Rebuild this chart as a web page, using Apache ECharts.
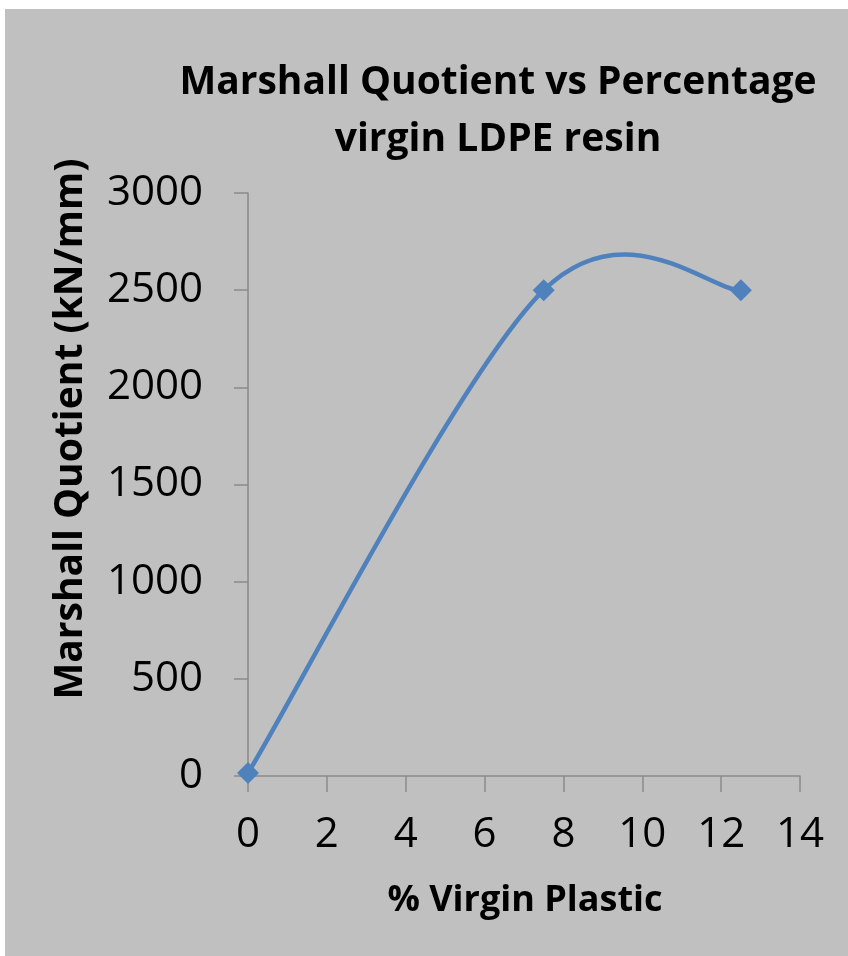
<!DOCTYPE html>
<html>
<head>
<meta charset="utf-8">
<script src="https://cdn.jsdelivr.net/npm/echarts@6/dist/echarts.min.js"></script>
<style>
  html, body { margin:0; padding:0; background:#ffffff; }
  #main { position:absolute; left:5px; top:9px; width:843px; height:947px; }
</style>
</head>
<body>
<div id="main"></div>
<script>
// data
var virginPct = [0, 7.5, 12.5];
var quotient = [15, 2500, 2500];
var xTicks = [0, 14, 2];
var yTicks = [0, 3000, 500];

var points = [];
for (var i = 0; i < virginPct.length; i++) {
    points.push([virginPct[i], quotient[i]]);
}

var lineColor = "#4f81bd";
var axisGray = "#8a8a8a";
var font = "Open Sans";

// smoothed line like the spreadsheet one (catmull-rom through the points)
function renderCurve(params, api) {
    if (params.dataIndex !== 0) return;
    var px = [];
    for (var k = 0; k < points.length; k++) {
        px.push(api.coord(points[k]));
    }
    var children = [];
    var n = px.length;
    for (var j = 0; j < n - 1; j++) {
        var p0 = px[Math.max(j - 1, 0)];
        var p1 = px[j];
        var p2 = px[j + 1];
        var p3 = px[Math.min(j + 2, n - 1)];
        children.push({
            type: "bezierCurve",
            shape: {
                x1: p1[0], y1: p1[1],
                cpx1: p1[0] + (p2[0] - p0[0]) / 6,
                cpy1: p1[1] + (p2[1] - p0[1]) / 6,
                cpx2: p2[0] - (p3[0] - p1[0]) / 6,
                cpy2: p2[1] - (p3[1] - p1[1]) / 6,
                x2: p2[0], y2: p2[1]
            },
            style: { stroke: lineColor, lineWidth: 4.5, fill: null, lineCap: "round" }
        });
    }
    return { type: "group", children: children };
}

var myChart = echarts.init(document.getElementById("main"));

var option = {
    backgroundColor: "#c0c0c0",
    animation: false,
    //标题
    title: {
        text: "Marshall Quotient vs Percentage\nvirgin LDPE resin",
        left: 488,
        top: 40,
        textAlign: "center",
        textStyle: {
            fontFamily: font,
            fontWeight: "bold",
            fontSize: 39,
            lineHeight: 57,
            color: "#000"
        }
    },
    grid: {
        left: 243,
        right: 48,
        top: 184,
        bottom: 180
    },
    xAxis: {
        type: "value",
        min: xTicks[0],
        max: xTicks[1],
        interval: xTicks[2],
        splitLine: { show: false },
        axisLine: { lineStyle: { color: axisGray, width: 1.5 } },
        axisTick: { length: 16, lineStyle: { color: axisGray, width: 1.5 } },
        axisLabel: { margin: 38, color: "#000", fontFamily: font, fontSize: 42 }
    },
    yAxis: {
        type: "value",
        min: yTicks[0],
        max: yTicks[1],
        interval: yTicks[2],
        splitLine: { show: false },
        axisLine: { show: true, lineStyle: { color: axisGray, width: 1.5 } },
        axisTick: { show: true, length: 14, lineStyle: { color: axisGray, width: 1.5 } },
        axisLabel: {
            margin: 45, color: "#000", fontFamily: font, fontSize: 42,
            formatter: function (v) { return String(v); }
        }
    },
    graphic: [
        {
            type: "text",
            x: 520,
            y: 892,
            style: {
                text: "% Virgin Plastic",
                font: "bold 36px '" + font + "'",
                fill: "#000",
                textAlign: "center",
                textVerticalAlign: "middle"
            }
        },
        {
            type: "text",
            x: 66,
            y: 420,
            rotation: Math.PI / 2,
            style: {
                text: "Marshall Quotient (kN/mm)",
                font: "bold 39px '" + font + "'",
                fill: "#000",
                textAlign: "center",
                textVerticalAlign: "middle"
            }
        }
    ],
    series: [
        {
            type: "custom",
            data: points,
            renderItem: renderCurve,
            clip: false,
            z: 2
        },
        {
            type: "scatter",
            data: points,
            symbol: "diamond",
            symbolSize: 22,
            itemStyle: { color: lineColor, opacity: 1 },
            z: 3
        }
    ]
};
//渲染视图
myChart.setOption(option);
</script>
</body>
</html>
